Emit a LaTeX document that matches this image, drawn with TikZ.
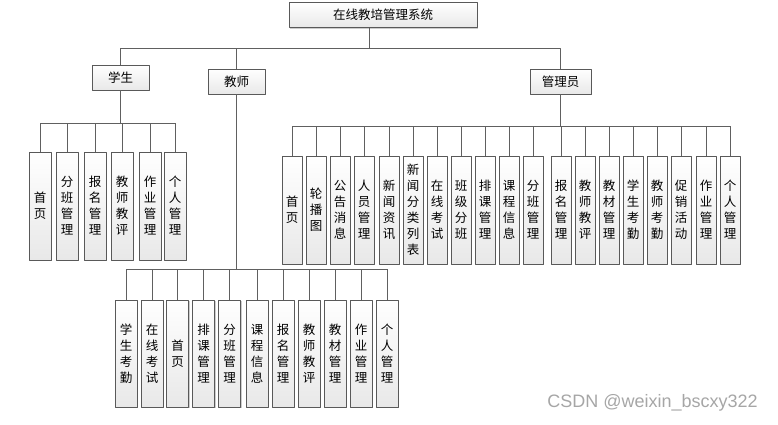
\documentclass[tikz,border=0pt]{standalone}
\usepackage{fontspec}
\setmainfont{Noto Sans CJK SC}
\newfontfamily\wmfont{Liberation Sans}
\usetikzlibrary{shadows}

\tikzset{
  box/.style={draw=gray!70!black, top color=white, bottom color=gray!18,
    drop shadow={shadow xshift=1pt,shadow yshift=-1pt,fill=gray!40,opacity=1},
    inner sep=0pt, align=center, font=\fontsize{12.5}{16}\selectfont},
  topbox/.style={box, minimum height=25pt},
  leaf/.style={box, minimum width=22pt, minimum height=108pt},
  aleaf/.style={leaf, minimum width=20pt},
  link/.style={draw=gray!75!black, line width=0.8pt},
}

\begin{document}
\begin{tikzpicture}[x=1pt,y=-1pt,line join=round]
	\useasboundingbox (0,0) rectangle (778,424);
	% Root and second level
	\node[topbox, minimum width=188pt] (root) at (383,15) {在线教培管理系统};
	\node[topbox, minimum width=57pt] (stu) at (120.5,77.5) {学生};
	\node[topbox, minimum width=57pt] (tea) at (236.5,81.5) {教师};
	\node[topbox, minimum width=61pt] (adm) at (560.5,81.5) {管理员};

	% Student leaves
	\node[leaf] (s1) at (40,206)  {首\\页};
	\node[leaf] (s2) at (67,206)  {分\\班\\管\\理};
	\node[leaf] (s3) at (95,206)  {报\\名\\管\\理};
	\node[leaf] (s4) at (122,206) {教\\师\\教\\评};
	\node[leaf] (s5) at (150,206) {作\\业\\管\\理};
	\node[leaf] (s6) at (175,206) {个\\人\\管\\理};

	% Teacher leaves
	\node[leaf, minimum height=107pt] (t1)  at (126,353.5)   {学\\生\\考\\勤};
	\node[leaf, minimum height=107pt] (t2)  at (152,353.5)   {在\\线\\考\\试};
	\node[leaf, minimum height=107pt] (t3)  at (177.5,353.5) {首\\页};
	\node[leaf, minimum height=107pt] (t4)  at (203.5,353.5) {排\\课\\管\\理};
	\node[leaf, minimum height=107pt] (t5)  at (229.5,353.5) {分\\班\\管\\理};
	\node[leaf, minimum height=107pt] (t6)  at (257,353.5)   {课\\程\\信\\息};
	\node[leaf, minimum height=107pt] (t7)  at (283,353.5)   {报\\名\\管\\理};
	\node[leaf, minimum height=107pt] (t8)  at (309,353.5)   {教\\师\\教\\评};
	\node[leaf, minimum height=107pt] (t9)  at (335,353.5)   {教\\材\\管\\理};
	\node[leaf, minimum height=107pt] (t10) at (361,353.5)   {作\\业\\管\\理};
	\node[leaf, minimum height=107pt] (t11) at (387,353.5)   {个\\人\\管\\理};

	% Admin leaves
	\node[aleaf] (a1)  at (292,210) {首\\页};
	\node[aleaf] (a2)  at (316,210) {轮\\播\\图};
	\node[aleaf] (a3)  at (340,210) {公\\告\\消\\息};
	\node[aleaf] (a4)  at (364,210) {人\\员\\管\\理};
	\node[aleaf] (a5)  at (389,210) {新\\闻\\资\\讯};
	\node[aleaf] (a6)  at (413,210) {新\\闻\\分\\类\\列\\表};
	\node[aleaf] (a7)  at (437,210) {在\\线\\考\\试};
	\node[aleaf] (a8)  at (461,210) {班\\级\\分\\班};
	\node[aleaf] (a9)  at (485,210) {排\\课\\管\\理};
	\node[aleaf] (a10) at (509,210) {课\\程\\信\\息};
	\node[aleaf] (a11) at (533,210) {分\\班\\管\\理};
	\node[aleaf] (a12) at (561,210) {报\\名\\管\\理};
	\node[aleaf] (a13) at (585,210) {教\\师\\教\\评};
	\node[aleaf] (a14) at (609,210) {教\\材\\管\\理};
	\node[aleaf] (a15) at (633,210) {学\\生\\考\\勤};
	\node[aleaf] (a16) at (657,210) {教\\师\\考\\勤};
	\node[aleaf] (a17) at (681,210) {促\\销\\活\\动};
	\node[aleaf] (a18) at (706,210) {作\\业\\管\\理};
	\node[aleaf] (a19) at (730,210) {个\\人\\管\\理};

	% Bars
	\coordinate (rbar) at (0,48);
	\coordinate (sbar) at (0,123);
	\coordinate (tbar) at (0,269);
	\coordinate (abar) at (0,126);
	\coordinate (r0) at ([xshift=-14pt]root.south);

	% Root to second level
	\draw[link] (r0) -- (r0 |- rbar) -| (stu.north);
	\draw[link] (r0 |- rbar) -| (tea.north);
	\draw[link] (r0 |- rbar) -| (adm.north);

	% Student branch
	\draw[link] (stu.south) -- (stu.south |- sbar);
	\draw[link] (s1.north |- sbar) -- (s6.north |- sbar);
	\foreach \i in {1,...,6} \draw[link] (s\i.north) -- (s\i.north |- sbar);

	% Teacher branch
	\draw[link] (tea.south) -- (tea.south |- tbar);
	\draw[link] (t1.north |- tbar) -- (t11.north |- tbar);
	\foreach \i in {1,...,11} \draw[link] (t\i.north) -- (t\i.north |- tbar);

	% Admin branch
	\draw[link] (adm.south) -- (adm.south |- abar);
	\draw[link] (a1.north |- abar) -- (a19.north |- abar);
	\foreach \i in {1,...,19} \draw[link] (a\i.north) -- (a\i.north |- abar);

	% Watermark
	\node[text=gray!70, font=\wmfont\fontsize{18}{21}\selectfont] (wm) at (652.5,403) {CSDN @weixin\_bscxy322};
\end{tikzpicture}
\end{document}
